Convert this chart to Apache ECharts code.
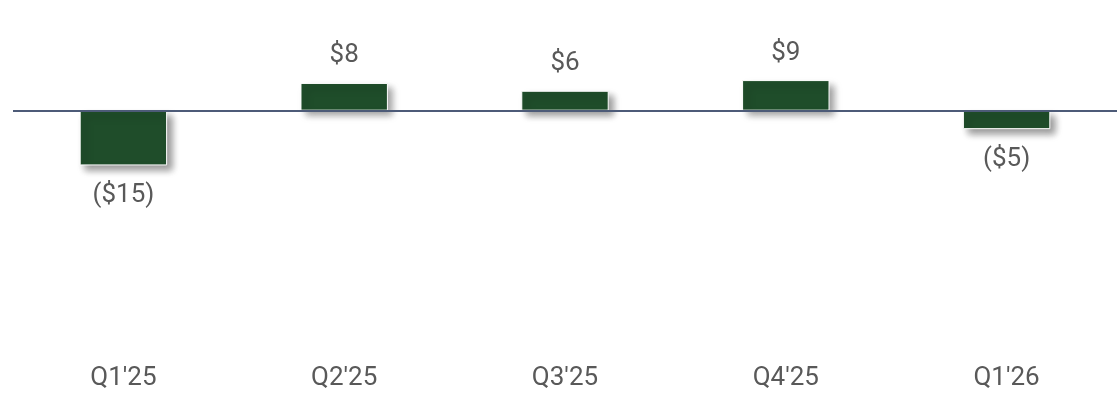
<!DOCTYPE html>
<html>
<head>
<meta charset="utf-8">
<script src="https://cdn.jsdelivr.net/npm/echarts@6/dist/echarts.min.js"></script>
<style>
html,body{margin:0;padding:0;background:#fff;}
#chart{width:1117px;height:394px;}
</style>
</head>
<body>
<div id="chart"></div>
<script>
const categories = ["Q1'25", "Q2'25", "Q3'25", "Q4'25", "Q1'26"];
const values = [-15.4, 7.8, 5.6, 8.6, -5.2];

function fmt(v) {
  const r = Math.round(Math.abs(v));
  return v < 0 ? '($' + r + ')' : '$' + r;
}

const chart = echarts.init(document.getElementById('chart'));
chart.setOption({
  animation: false,
  grid: { left: 13, width: 1112, top: 4, height: 320, containLabel: false },
  xAxis: {
    type: 'category',
    data: categories,
    axisLine: { show: false, onZero: false },
    axisTick: { show: false },
    axisLabel: {
      margin: 41,
      fontSize: 26,
      color: '#595959',
      fontFamily: 'Roboto, sans-serif'
    }
  },
  yAxis: {
    type: 'value',
    min: -60,
    max: 30,
    show: false,
    splitLine: { show: false }
  },
  series: [{
    type: 'bar',
    barWidth: '39.6%',
    data: values.map(v => ({
      value: v,
      label: {
        position: v < 0 ? 'bottom' : 'top',
        distance: v < 0 ? 17 : 14
      }
    })),
    itemStyle: {
      color: '#1f4d2a',
      borderColor: '#ffffff',
      borderWidth: 1,
      shadowColor: 'rgba(0,0,0,0.4)',
      shadowBlur: 7,
      shadowOffsetX: 5,
      shadowOffsetY: 5
    },
    label: {
      show: true,
      fontSize: 26,
      color: '#595959',
      fontFamily: 'Roboto, sans-serif',
      formatter: p => fmt(p.value)
    },
    markLine: {
      silent: true,
      symbol: 'none',
      label: { show: false },
      lineStyle: { color: '#4d5b78', width: 2, type: 'solid' },
      data: [{ yAxis: 0 }]
    }
  }]
});
</script>
</body>
</html>
